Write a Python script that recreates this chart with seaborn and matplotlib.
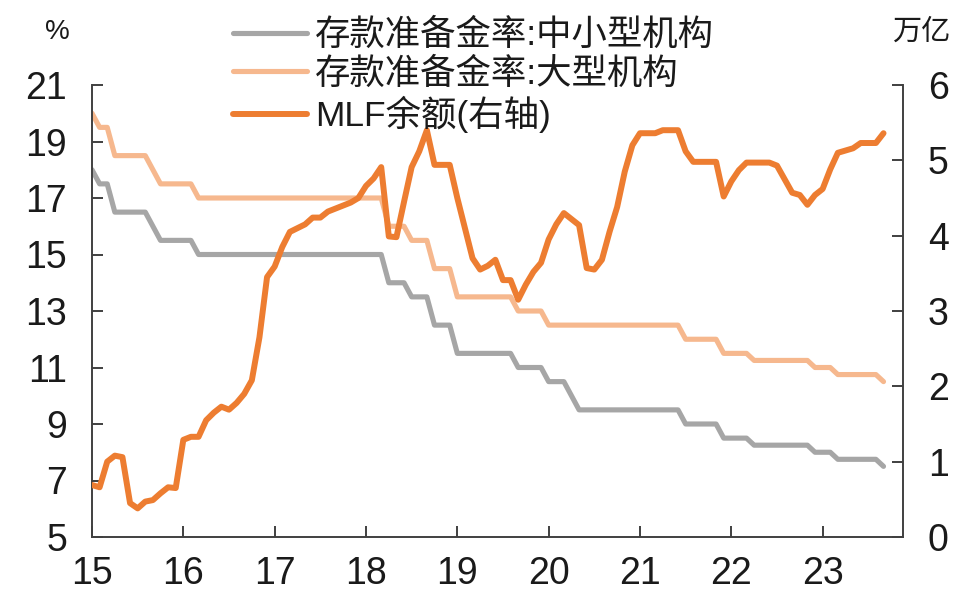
import matplotlib
matplotlib.use("Agg")
import matplotlib.pyplot as plt
import numpy as np
import pandas as pd
import seaborn as sns

# Monthly observations, Jan 2015 - Sep 2023 (x axis in two-digit years)
years = [15, 16, 17, 18, 19, 20, 21, 22, 23]
year_labels = ["15", "16", "17", "18", "19", "20", "21", "22", "23"]

# Required reserve ratio for small and medium-sized institutions (%)
rrr_small = [
    18, 17.5, 17.5, 16.5, 16.5, 16.5, 16.5, 16.5, 16, 15.5, 15.5, 15.5,
    15.5, 15.5, 15, 15, 15, 15, 15, 15, 15, 15, 15, 15,
    15, 15, 15, 15, 15, 15, 15, 15, 15, 15, 15, 15,
    15, 15, 15, 14, 14, 14, 13.5, 13.5, 13.5, 12.5, 12.5, 12.5,
    11.5, 11.5, 11.5, 11.5, 11.5, 11.5, 11.5, 11.5, 11, 11, 11, 11,
    10.5, 10.5, 10.5, 10, 9.5, 9.5, 9.5, 9.5, 9.5, 9.5, 9.5, 9.5,
    9.5, 9.5, 9.5, 9.5, 9.5, 9.5, 9, 9, 9, 9, 9, 8.5,
    8.5, 8.5, 8.5, 8.25, 8.25, 8.25, 8.25, 8.25, 8.25, 8.25, 8.25, 8,
    8, 8, 7.75, 7.75, 7.75, 7.75, 7.75, 7.75, 7.5,
]

# Required reserve ratio for large institutions (%)
rrr_large = [
    20, 19.5, 19.5, 18.5, 18.5, 18.5, 18.5, 18.5, 18, 17.5, 17.5, 17.5,
    17.5, 17.5, 17, 17, 17, 17, 17, 17, 17, 17, 17, 17,
    17, 17, 17, 17, 17, 17, 17, 17, 17, 17, 17, 17,
    17, 17, 17, 16, 16, 16, 15.5, 15.5, 15.5, 14.5, 14.5, 14.5,
    13.5, 13.5, 13.5, 13.5, 13.5, 13.5, 13.5, 13.5, 13, 13, 13, 13,
    12.5, 12.5, 12.5, 12.5, 12.5, 12.5, 12.5, 12.5, 12.5, 12.5, 12.5, 12.5,
    12.5, 12.5, 12.5, 12.5, 12.5, 12.5, 12, 12, 12, 12, 12, 11.5,
    11.5, 11.5, 11.5, 11.25, 11.25, 11.25, 11.25, 11.25, 11.25, 11.25, 11.25, 11,
    11, 11, 10.75, 10.75, 10.75, 10.75, 10.75, 10.75, 10.5,
]

# MLF outstanding balance (trillion yuan, right axis)
mlf_balance = [
    0.69, 0.66, 1.00, 1.08, 1.06, 0.45, 0.38, 0.47, 0.49, 0.58, 0.66, 0.65,
    1.29, 1.33, 1.33, 1.55, 1.65, 1.73, 1.69, 1.78, 1.90, 2.08, 2.65, 3.45,
    3.59, 3.85, 4.05, 4.10, 4.15, 4.24, 4.24, 4.32, 4.36, 4.40, 4.44, 4.50,
    4.66, 4.76, 4.91, 3.99, 3.98, 4.45, 4.91, 5.12, 5.40, 4.94, 4.94, 4.94,
    4.50, 4.10, 3.70, 3.55, 3.60, 3.68, 3.41, 3.41, 3.15, 3.35, 3.52, 3.64,
    3.95, 4.15, 4.30, 4.22, 4.14, 3.57, 3.55, 3.68, 4.05, 4.38, 4.85, 5.20,
    5.36, 5.36, 5.36, 5.40, 5.40, 5.40, 5.12, 4.98, 4.98, 4.98, 4.98, 4.52,
    4.72, 4.87, 4.97, 4.97, 4.97, 4.97, 4.93, 4.75, 4.57, 4.54, 4.41, 4.54,
    4.62, 4.88, 5.10, 5.13, 5.16, 5.23, 5.23, 5.23, 5.36,
]

label_small = "存款准备金率:中小型机构"
label_large = "存款准备金率:大型机构"
label_mlf = "MLF余额(右轴)"

df = pd.DataFrame({
    "t": years[0] + np.arange(len(mlf_balance)) / 12.0,
    "small": rrr_small,
    "large": rrr_large,
    "mlf": mlf_balance,
})

sns.set_style("ticks")
fonts = ["Liberation Sans", "Noto Sans CJK SC", "DejaVu Sans"]
plt.rcParams["font.family"] = fonts
plt.rcParams["axes.unicode_minus"] = False

c_gray = "#A6A6A6"
c_light = "#F6B88E"
c_orange = "#ED7D31"
c_axis = "#404040"
c_text = "#1A1A1A"

fig = plt.figure(figsize=(9.6, 5.96), dpi=100)
ax = fig.add_axes([92 / 960, 1 - 537 / 596, (903 - 92) / 960, (537 - 85) / 596])
ax2 = ax.twinx()

sns.lineplot(data=df, x="t", y="small", ax=ax, color=c_gray, lw=3.7, label=label_small, legend=False)
sns.lineplot(data=df, x="t", y="large", ax=ax, color=c_light, lw=3.7, label=label_large, legend=False)
sns.lineplot(data=df, x="t", y="mlf", ax=ax2, color=c_orange, lw=4.3, label=label_mlf, legend=False)

ax.set_xlim(15, 23.88)
ax.set_ylim(5, 21)
ax2.set_ylim(0, 6)
ax.set_xticks(years)
ax.set_xticklabels(year_labels)
ax.set_yticks(np.arange(5, 22, 2))
ax2.set_yticks(np.arange(0, 7, 1))
ax.set_xlabel("")
ax.set_ylabel("")
ax2.set_ylabel("")

for a in (ax, ax2):
    a.spines["top"].set_visible(False)
    for s in ("left", "right", "bottom"):
        a.spines[s].set_color(c_axis)
        a.spines[s].set_linewidth(1.4)
    a.tick_params(direction="in", length=8, width=1.4, color=c_axis,
                  labelsize=27, labelcolor=c_text, pad=18)
ax.spines["right"].set_visible(False)
ax2.spines["left"].set_visible(False)
ax2.spines["bottom"].set_visible(False)
ax.tick_params(axis="x", pad=14)

fig.text(57 / 960, 1 - 32 / 596, "%", fontsize=20, color=c_text, ha="center", va="center")
fig.text(921 / 960, 1 - 32 / 596, "万亿", fontsize=21, color=c_text, ha="center", va="center",
         family=["Noto Sans CJK SC", "DejaVu Sans"])

handles = ax.get_lines()[:2] + ax2.get_lines()[:1]
leg = fig.legend(handles, [label_small, label_large, label_mlf],
                 loc="upper left", bbox_to_anchor=(233 / 960, 1 - 19 / 596),
                 frameon=False, fontsize=25.5, borderpad=0, handlelength=2.1,
                 handletextpad=0.22, labelspacing=0.15, borderaxespad=0)
for t in leg.get_texts():
    t.set_color(c_text)

fig.savefig("out.png", dpi=100)
